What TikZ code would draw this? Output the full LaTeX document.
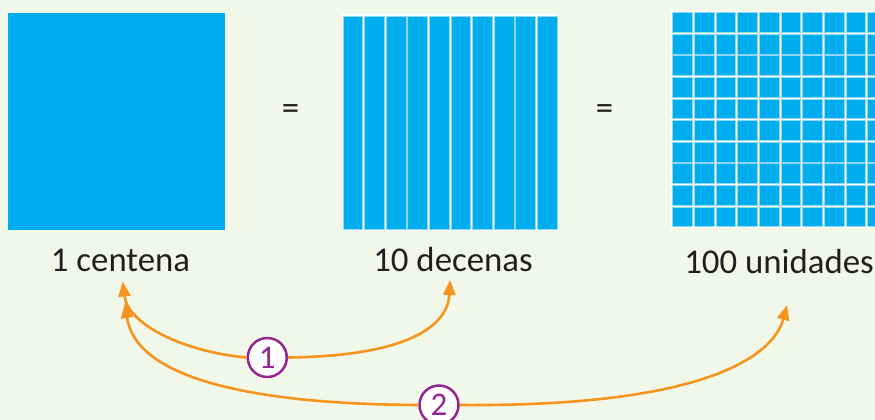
\documentclass[tikz,border=0pt]{standalone}
\usepackage{fontspec}
\setmainfont{Carlito}
\usetikzlibrary{arrows.meta}
\definecolor{bg}{HTML}{F1F7E9}
\definecolor{cyanblk}{HTML}{00AEEF}
\definecolor{edgeblue}{HTML}{8ED8F5}
\definecolor{orangearr}{HTML}{F7941D}
\definecolor{purp}{HTML}{92278F}
\definecolor{txt}{HTML}{231F20}
\tikzset{
  lbl/.style={anchor=base, text=txt, inner sep=0pt, font=\fontsize{34.8}{40}\selectfont},
  eqs/.style={text=txt, inner sep=0pt, font=\fontsize{34.8}{40}\selectfont},
  cell/.style={fill=cyanblk, draw=edgeblue, line width=0.7pt},
  arr/.style={draw=orangearr, line width=2.6pt, -{Triangle[length=15pt,width=12pt]}},
  num/.style={circle, draw=purp, line width=2.5pt, fill=white, minimum size=39pt, inner sep=0pt, text=purp, font=\fontsize{33}{36}\selectfont}
}
\begin{document}
\begin{tikzpicture}[x=1pt,y=-1pt]
\useasboundingbox (0,0) rectangle (875,420);
\clip (0,0) rectangle (875,420);
\fill[bg] (0,0) rectangle (875,420);
% one hundred block
\fill[cyanblk] (8,13) rectangle (225,230);
% ten strips
\fill[white] (341.5,14.5) rectangle (558,230.5);
\foreach \i in {0,...,9}{
  \draw[cell] ({342+\i*21.6+0.9},15.9) rectangle ({342+(\i+1)*21.6-0.9},229.6);
}
% hundred units
\fill[white] (671.2,11.2) rectangle (890,228.2);
\foreach \i in {0,...,9}{
  \foreach \j in {0,...,9}{
    \draw[cell] ({671.7+\i*21.67+0.9},{11.7+\j*21.6+0.9}) rectangle ({671.7+(\i+1)*21.67-0.9},{11.7+(\j+1)*21.6-0.9});
  }
}
% equals
\node[eqs] (eq1) at (290.5,112) {=};
\node[eqs] (eq2) at (604.5,112) {=};
% labels
\node[lbl] (l1) at (120.5,271.7) {1 centena};
\node[lbl] (l2) at (453,271.7) {10 decenas};
\node[lbl] (l3) at (779,273) {100 unidades};
% arrow tips
\coordinate (t1) at (122.7,281.5);
\coordinate (t2) at (450,280);
\coordinate (t3) at (125,303);
\coordinate (t4) at (787,305);
% circles
\node[num] (c1) at (267.3,357.5) {1};
\node[num] (c2) at (439,405) {2};
% arrows
\draw[arr] (c1.west) .. controls (185,352) and (128,325) .. (t1);
\draw[arr] (c1.east) .. controls (410,356) and (448,325) .. (t2);
\draw[arr] (c2.west) .. controls (240,404) and (135,375) .. (t3);
\draw[arr] (c2.east) .. controls (720,407) and (775,350) .. (t4);
\end{tikzpicture}
\end{document}
